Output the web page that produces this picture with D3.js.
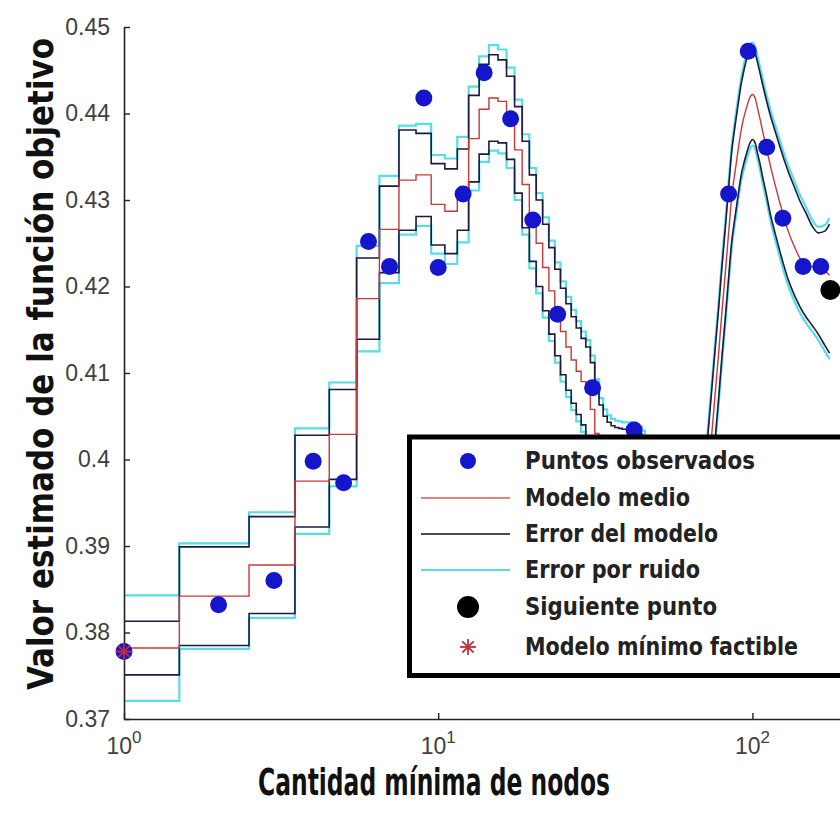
<!DOCTYPE html>
<html><head><meta charset="utf-8">
<script src="https://cdn.jsdelivr.net/npm/d3@7"></script>
<style>body{margin:0;background:#fff} svg{display:block}</style>
</head><body>
<svg id="chart" width="840" height="816"></svg>
<script>
// ---------- data ----------
// observed points (Puntos observados)
const obsX = [1, 2, 3, 4, 5, 6, 7, 9, 10, 12, 14, 17, 20, 24, 31, 42, 84, 97, 111, 125, 145, 165];
const obsY = [0.3778, 0.3832, 0.3860, 0.3998, 0.3973, 0.4252, 0.4223, 0.4418, 0.4222, 0.4307, 0.4447, 0.4394, 0.4277, 0.4168, 0.4083, 0.4034, 0.4307, 0.4472, 0.4361, 0.4279, 0.4223, 0.4223];
// next point (Siguiente punto) and feasible minimum (Modelo mínimo factible)
const nextX = [177], nextY = [0.4196];
const minX = [1], minY = [0.3778];

// step-wise model for small integer node counts
const stepNodes = [1,2,3,4,5,6,7,8,9,10,11,12,13,14,15,16,17,18,19,20,21,22,23,24,25,26,27,28,29,30,31,32,33,34,35,36,37,38,39,40,41,42,43,44,45,46];
const meanL = [0.3782,0.3842,0.3878,0.3975,0.4029,0.4186,0.4266,0.4323,0.4329,0.4295,0.4287,0.4312,0.4371,0.4405,0.4418,0.4414,0.4395,0.4358,0.4318,0.4279,0.4250,0.4222,0.4195,0.4170,0.4148,0.4130,0.4115,0.4102,0.4090,0.4078,0.4058,0.4030,0.4008,0.3995,0.3988,0.3984,0.3982,0.3981,0.3980,0.3980,0.3980,0.3980,0.3978,0.3974,0.3968,0.3960];
const sdModelL = [0.0031,0.0057,0.0056,0.0053,0.0052,0.0047,0.0050,0.0058,0.0048,0.0047,0.0049,0.0047,0.0050,0.0052,0.0050,0.0048,0.0048,0.0050,0.0050,0.0050,0.0050,0.0050,0.0050,0.0050,0.0050,0.0050,0.0050,0.0050,0.0050,0.0052,0.0054,0.0055,0.0055,0.0055,0.0055,0.0055,0.0055,0.0055,0.0055,0.0055,0.0055,0.0055,0.0055,0.0056,0.0057,0.0058];
const sdNoiseL = [0.0061,0.0061,0.0061,0.0061,0.0060,0.0061,0.0062,0.0063,0.0059,0.0057,0.0061,0.0061,0.0060,0.0061,0.0061,0.0060,0.0058,0.0058,0.0058,0.0058,0.0058,0.0058,0.0058,0.0058,0.0058,0.0058,0.0058,0.0058,0.0058,0.0060,0.0062,0.0063,0.0063,0.0063,0.0063,0.0063,0.0063,0.0063,0.0063,0.0063,0.0063,0.0063,0.0063,0.0064,0.0065,0.0066];

// model for large node counts
const nodesR = [68,70,72,74,76,78,80,82,84,86,88,90,92,94,96,98,100,102,104,106,108,110,114,118,122,126,130,136,142,148,155,162,170,176];
const meanR = [0.3865,0.3918,0.3972,0.4023,0.4073,0.4121,0.4171,0.4216,0.4262,0.4305,0.4332,0.4357,0.4380,0.4396,0.4408,0.4418,0.4422,0.4418,0.4405,0.4392,0.4378,0.4366,0.4340,0.4318,0.4298,0.4280,0.4264,0.4246,0.4232,0.4225,0.4223,0.4222,0.4218,0.4213];
const modelHiR = [0.3917,0.3970,0.4024,0.4075,0.4125,0.4173,0.4223,0.4268,0.4314,0.4357,0.4385,0.4410,0.4433,0.4450,0.4464,0.4473,0.4475,0.4470,0.4458,0.4445,0.4432,0.4420,0.4398,0.4380,0.4363,0.4347,0.4333,0.4315,0.4298,0.4285,0.4270,0.4262,0.4264,0.4272];
const modelLoR = [0.3813,0.3866,0.3920,0.3971,0.4021,0.4069,0.4119,0.4164,0.4210,0.4253,0.4280,0.4305,0.4328,0.4343,0.4355,0.4365,0.4370,0.4366,0.4353,0.4340,0.4325,0.4312,0.4284,0.4262,0.4242,0.4224,0.4208,0.4190,0.4176,0.4165,0.4155,0.4145,0.4132,0.4123];
const noiseHiR = [0.3924,0.3977,0.4031,0.4082,0.4132,0.4180,0.4230,0.4275,0.4321,0.4364,0.4392,0.4417,0.4440,0.4457,0.4471,0.4480,0.4482,0.4477,0.4465,0.4452,0.4439,0.4427,0.4405,0.4387,0.4370,0.4354,0.4340,0.4322,0.4305,0.4292,0.4277,0.4269,0.4271,0.4279];
const noiseLoR = [0.3806,0.3859,0.3913,0.3964,0.4014,0.4062,0.4112,0.4157,0.4203,0.4246,0.4273,0.4298,0.4321,0.4336,0.4348,0.4358,0.4363,0.4359,0.4346,0.4333,0.4318,0.4305,0.4277,0.4255,0.4235,0.4217,0.4201,0.4183,0.4169,0.4158,0.4148,0.4138,0.4125,0.4116];

const yTicks = [0.37,0.38,0.39,0.40,0.41,0.42,0.43,0.44,0.45];
const xTicks = [1,10,100];
const xTickExp = ["0","1","2"];
const legendLabels = ["Puntos observados","Modelo medio","Error del modelo","Error por ruido","Siguiente punto","Modelo mínimo factible"];
const xTitle = "Cantidad mínima de nodos";
const yTitle = "Valor estimado de la función objetivo";

// ---------- drawing ----------
const C = {red:"#c8383a", navy:"#1a1a44", cyan:"#58dde3", blue:"#1515cc", star:"#c0303c"};
const svg = d3.select("#chart");
const x = d3.scaleLog().domain([1,190]).range([124,840]);
const y = d3.scaleLinear().domain([0.37,0.45]).range([719,27]);

svg.append("defs").append("clipPath").attr("id","plotclip")
  .append("rect").attr("x",124).attr("y",20).attr("width",716).attr("height",699);

const stepLine = d3.line().x(d=>x(d[0])).y(d=>y(d[1])).curve(d3.curveStepAfter);
const smoothLine = d3.line().x(d=>x(d[0])).y(d=>y(d[1])).curve(d3.curveMonotoneX);
function stepPts(vals){
  const p = stepNodes.map((n,i)=>[i===0 ? n : n-0.5, vals[i]]);
  p.push([stepNodes[stepNodes.length-1]+0.5, vals[vals.length-1]]);
  return p;
}
const plot = svg.append("g").attr("clip-path","url(#plotclip)");
const noiseHiL = meanL.map((m,i)=>m+sdNoiseL[i]), noiseLoL = meanL.map((m,i)=>m-sdNoiseL[i]);
const modelHiL = meanL.map((m,i)=>m+sdModelL[i]), modelLoL = meanL.map((m,i)=>m-sdModelL[i]);
const zipR = a => nodesR.map((n,i)=>[n,a[i]]);

[[noiseHiL,noiseHiR],[noiseLoL,noiseLoR]].forEach(([l,r])=>{
  plot.append("path").attr("d",stepLine(stepPts(l))).attr("fill","none").attr("stroke",C.cyan).attr("stroke-width",2.2);
  plot.append("path").attr("d",smoothLine(zipR(r))).attr("fill","none").attr("stroke",C.cyan).attr("stroke-width",2.2);
});
[[modelHiL,modelHiR],[modelLoL,modelLoR]].forEach(([l,r])=>{
  plot.append("path").attr("d",stepLine(stepPts(l))).attr("fill","none").attr("stroke",C.navy).attr("stroke-width",1.6);
  plot.append("path").attr("d",smoothLine(zipR(r))).attr("fill","none").attr("stroke",C.navy).attr("stroke-width",1.6);
});
plot.append("path").attr("d",stepLine(stepPts(meanL))).attr("fill","none").attr("stroke",C.red).attr("stroke-width",1.4);
plot.append("path").attr("d",smoothLine(zipR(meanR))).attr("fill","none").attr("stroke",C.red).attr("stroke-width",1.4);

// axes
const fontTick = "'Liberation Sans', Arial, sans-serif";
const gY = svg.append("g").attr("transform","translate(124,0)")
  .call(d3.axisLeft(y).tickValues(yTicks).tickSizeInner(-6).tickSizeOuter(0).tickPadding(14)
    .tickFormat(d=>String(+d.toFixed(2))));
gY.select(".domain").attr("stroke","#222").attr("stroke-width",1.6);
gY.selectAll(".tick line").attr("stroke","#222").attr("stroke-width",1.4);
gY.selectAll(".tick text").attr("font-family",fontTick).attr("font-size",23).attr("fill","#404040");

const gX = svg.append("g").attr("transform","translate(0,719)")
  .call(d3.axisBottom(x).tickValues(xTicks).tickSizeInner(-6).tickSizeOuter(0).tickFormat(()=>""));
gX.select(".domain").attr("stroke","#222").attr("stroke-width",1.6);
gX.selectAll(".tick line").attr("stroke","#222").attr("stroke-width",1.4);
gX.selectAll(".tick text").remove();
xTicks.forEach((v,i)=>{
  const t = svg.append("text").attr("x",x(v)).attr("y",754).attr("text-anchor","middle")
    .attr("font-family",fontTick).attr("font-size",23).attr("fill","#404040");
  t.append("tspan").text("10");
  t.append("tspan").attr("dy",-11).attr("font-size",17).text(xTickExp[i]);
});

// points
svg.append("g").selectAll("circle").data(obsX).join("circle")
  .attr("cx",(d)=>x(d)).attr("cy",(d,i)=>y(obsY[i])).attr("r",8.5).attr("fill",C.blue);
svg.append("g").selectAll("circle").data(nextX).join("circle")
  .attr("cx",d=>x(d)).attr("cy",(d,i)=>y(nextY[i])).attr("r",10).attr("fill","#000");
function star(g,cx,cy,r){
  [0,45,90,135].forEach(a=>{
    const rad=a*Math.PI/180;
    g.append("line").attr("x1",cx-r*Math.cos(rad)).attr("y1",cy-r*Math.sin(rad))
      .attr("x2",cx+r*Math.cos(rad)).attr("y2",cy+r*Math.sin(rad))
      .attr("stroke",C.star).attr("stroke-width",1.8);
  });
}
minX.forEach((v,i)=>star(svg.append("g"),x(v),y(minY[i]),8));

// legend
const fontBold = "'Liberation Sans Narrow','Arial Narrow','DejaVu Sans Condensed','Liberation Sans',sans-serif";
const lg = svg.append("g");
lg.append("rect").attr("x",409.5).attr("y",437).attr("width",440).attr("height",238.5)
  .attr("fill","#fff").attr("stroke","#000").attr("stroke-width",5);
const rowY = [461,498,534,570,607,647];
const textW = [230,165,193,175,192,273];
legendLabels.forEach((s,i)=>{
  lg.append("text").attr("x",525).attr("y",rowY[i]+8).attr("font-family",fontBold).attr("font-weight","bold")
    .attr("font-size",24).attr("fill","#222").attr("textLength",textW[i]).attr("lengthAdjust","spacingAndGlyphs").text(s);
});
lg.append("circle").attr("cx",468).attr("cy",rowY[0]).attr("r",8).attr("fill",C.blue);
lg.append("line").attr("x1",421).attr("x2",510).attr("y1",rowY[1]).attr("y2",rowY[1]).attr("stroke","#e05555").attr("stroke-width",1.4);
lg.append("line").attr("x1",421).attr("x2",510).attr("y1",rowY[2]).attr("y2",rowY[2]).attr("stroke","#111").attr("stroke-width",1.6);
lg.append("line").attr("x1",421).attr("x2",510).attr("y1",rowY[3]).attr("y2",rowY[3]).attr("stroke",C.cyan).attr("stroke-width",2);
lg.append("circle").attr("cx",468).attr("cy",rowY[4]).attr("r",11).attr("fill","#000");
star(lg,468,rowY[5],8);

// titles
const fontTitle = "'Liberation Sans Narrow','Arial Narrow','DejaVu Sans Condensed','Liberation Sans',sans-serif";
svg.append("text").attr("x",434).attr("y",795).attr("text-anchor","middle").attr("font-family",fontTitle)
  .attr("font-weight","bold").attr("font-size",38).attr("fill","#111")
  .attr("textLength",352).attr("lengthAdjust","spacingAndGlyphs").text(xTitle);
svg.append("text").attr("transform","translate(53,364) rotate(-90)").attr("text-anchor","middle").attr("font-family",fontTitle)
  .attr("font-weight","bold").attr("font-size",36).attr("fill","#111")
  .attr("textLength",652).attr("lengthAdjust","spacingAndGlyphs").text(yTitle);
</script>
</body></html>
